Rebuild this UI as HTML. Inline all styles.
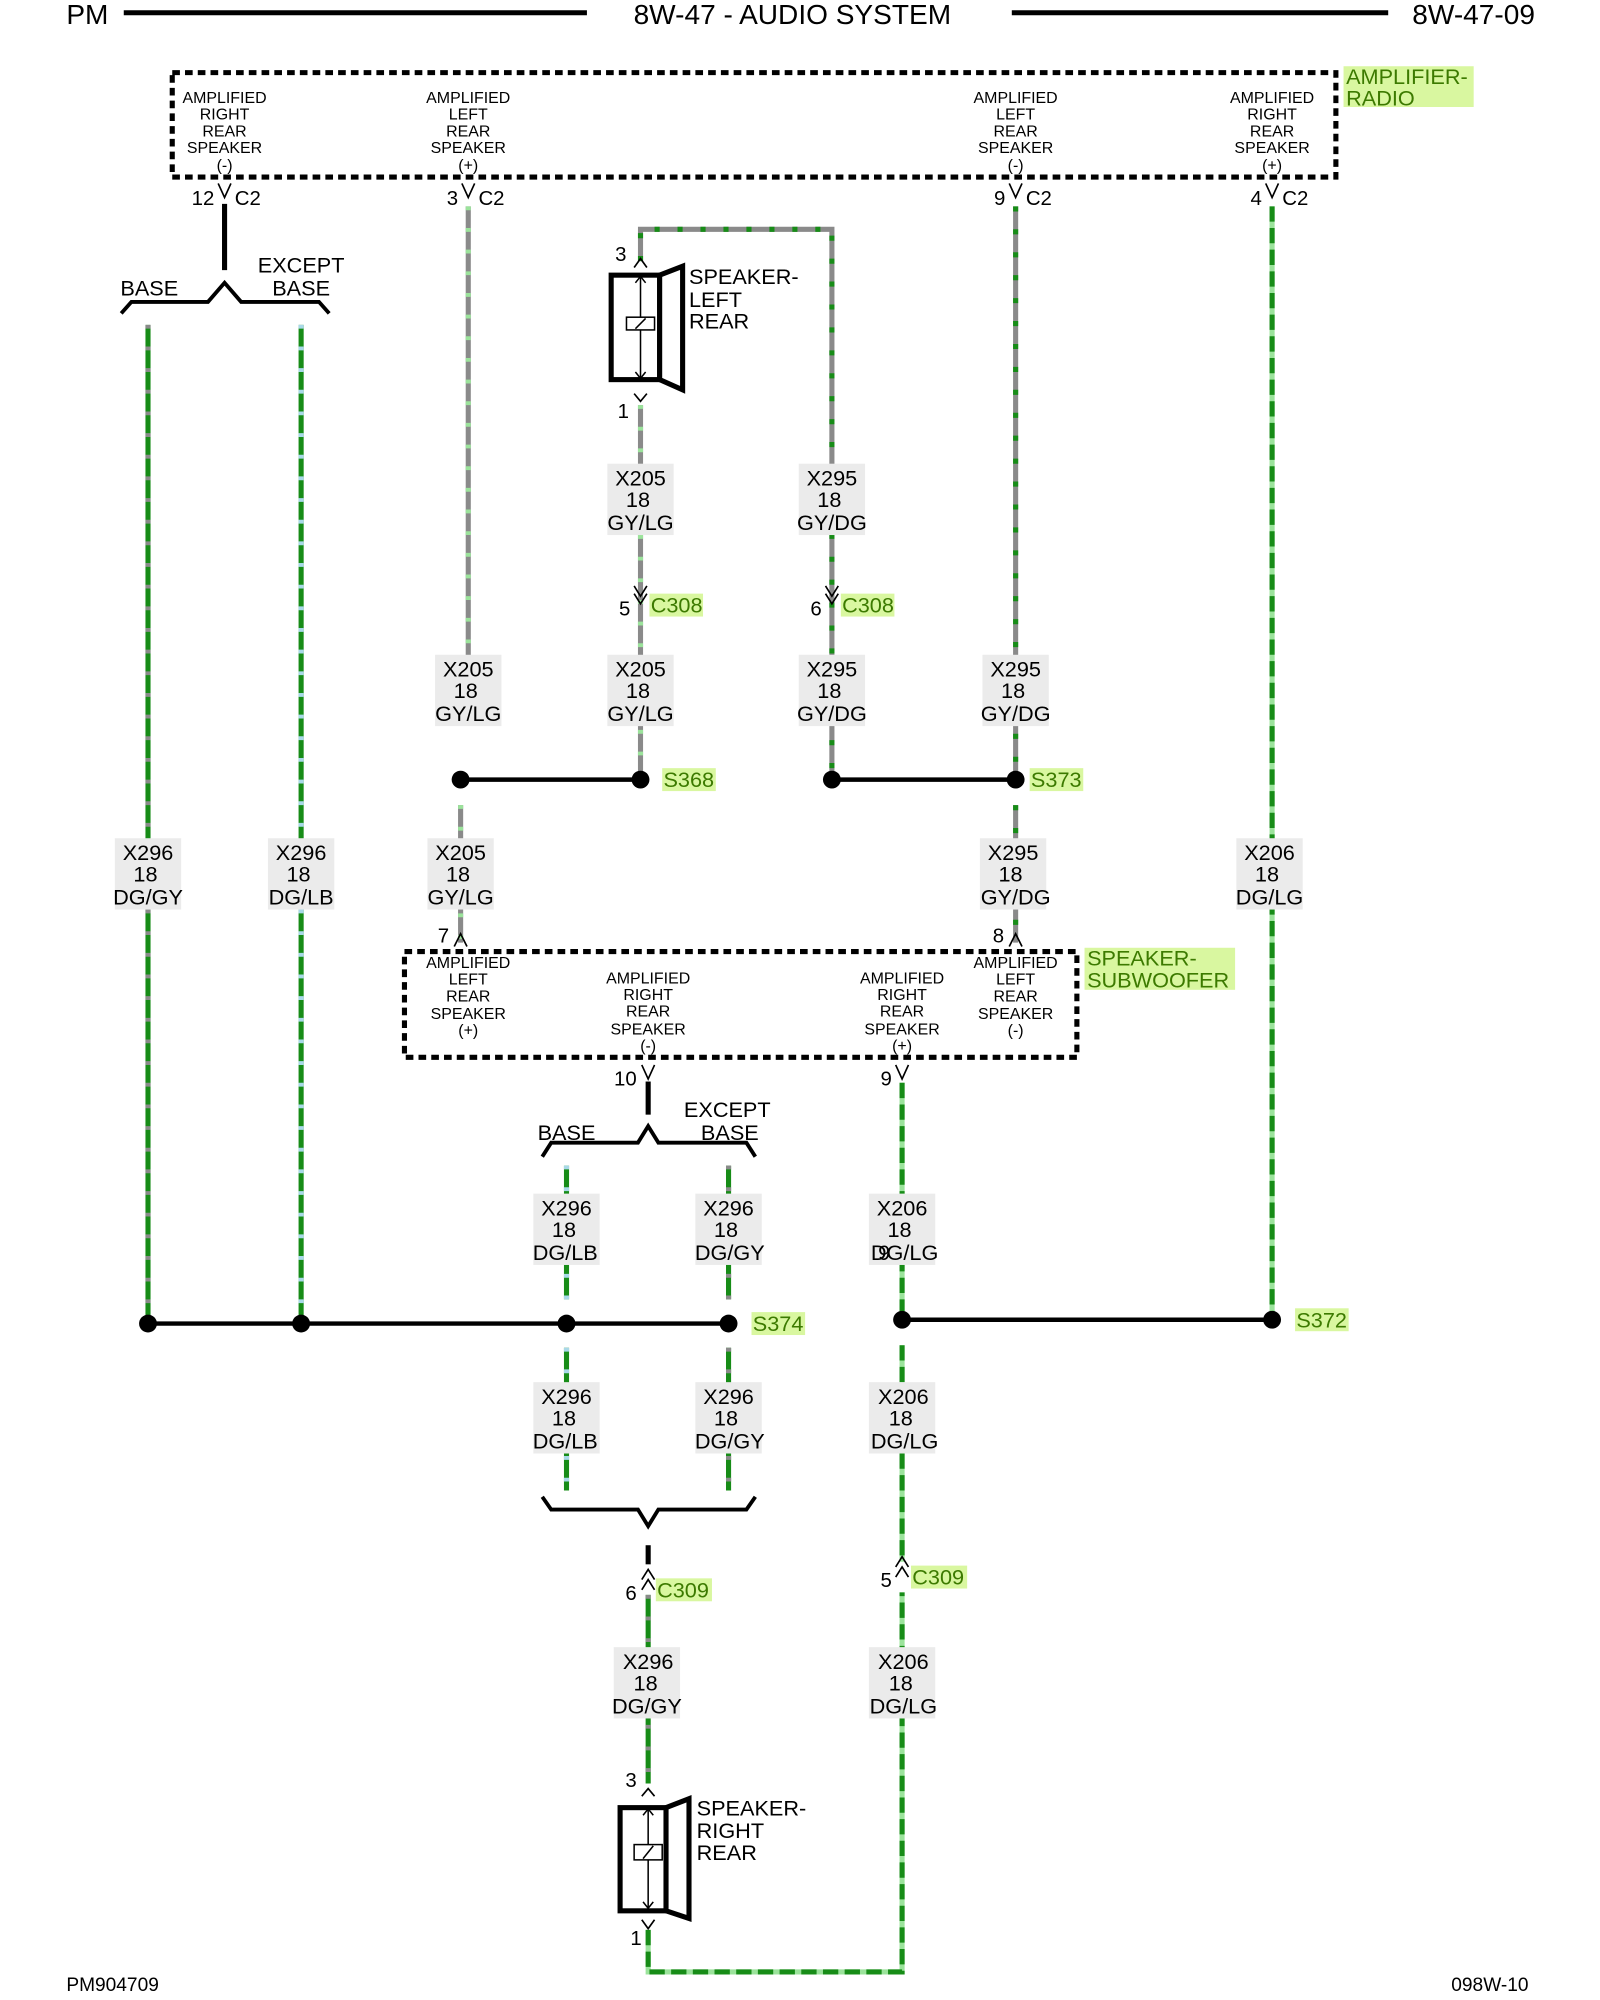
<!DOCTYPE html>
<html><head><meta charset="utf-8"><style>
html,body{margin:0;padding:0;background:#fff}
svg{display:block}
text{font-family:"Liberation Sans",sans-serif;fill:#000}
.s{font-size:12.5px;text-anchor:middle}
.w{font-size:17px;text-anchor:middle}
.p{font-size:16px}
.g{fill:#3c7a00;font-size:17px}
.hb{fill:#d9f7a0}
.lb{fill:#ebebeb}
.base{fill:none;stroke-width:4}
.str{fill:none;stroke-width:4}
</style></head><body>
<svg width="1600" height="2000" viewBox="0 0 1254 1570" preserveAspectRatio="none" xmlns="http://www.w3.org/2000/svg">
<text x="52" y="19" style="font-size:22px">PM</text>
<line x1="97" y1="10" x2="460" y2="10" stroke="#000" stroke-width="4"/>
<text x="621" y="19" style="font-size:22px;text-anchor:middle">8W-47 - AUDIO SYSTEM</text>
<line x1="793" y1="10" x2="1088" y2="10" stroke="#000" stroke-width="4"/>
<text x="1203" y="19" style="font-size:22px;text-anchor:end">8W-47-09</text>

<g>
<path class="base" stroke="#178c17" d="M116 255V1039"/><path class="str" stroke="#8a8a8a" stroke-dasharray="3 14" d="M116 255V1039"/>
<path class="base" stroke="#178c17" d="M236 255V1039"/><path class="str" stroke="#a8d8e8" stroke-dasharray="3 14" d="M236 255V1039"/>
<path class="base" stroke="#8a8a8a" d="M367 162V540"/><path class="str" stroke="#9be39b" stroke-dasharray="3 14" d="M367 162V540"/>
<path class="base" stroke="#8a8a8a" d="M502 205V180H652V612"/><path class="str" stroke="#178c17" stroke-dasharray="4 14" d="M502 205V180H652V612"/>
<path class="base" stroke="#8a8a8a" d="M502 318V612"/><path class="str" stroke="#9be39b" stroke-dasharray="3 14" d="M502 318V612"/>
<path class="base" stroke="#8a8a8a" d="M796 162V612"/><path class="str" stroke="#178c17" stroke-dasharray="4 14" d="M796 162V612"/>
<path class="base" stroke="#8a8a8a" d="M796 632V740"/><path class="str" stroke="#178c17" stroke-dasharray="4 14" d="M796 632V740"/>
<path class="base" stroke="#8a8a8a" d="M361 632V740"/><path class="str" stroke="#9be39b" stroke-dasharray="3 14" d="M361 632V740"/>
<path class="base" stroke="#9be39b" d="M997 162V1036"/><path class="str" stroke="#178c17" stroke-dasharray="12 5" d="M997 162V1036"/>
<path class="base" stroke="#9be39b" d="M707 850V1036"/><path class="str" stroke="#178c17" stroke-dasharray="12 5" d="M707 850V1036"/>
<path class="base" stroke="#9be39b" d="M707 1056V1226"/><path class="str" stroke="#178c17" stroke-dasharray="12 5" d="M707 1056V1226"/>
<path class="base" stroke="#9be39b" d="M508 1515V1548H707V1250"/><path class="str" stroke="#178c17" stroke-dasharray="12 5" d="M508 1515V1548H707V1250"/>
<path class="base" stroke="#178c17" d="M444 915V1020M444 1058V1170"/><path class="str" stroke="#a8d8e8" stroke-dasharray="3 14" d="M444 915V1020M444 1058V1170"/>
<path class="base" stroke="#178c17" d="M571 915V1020M571 1058V1170"/><path class="str" stroke="#8a8a8a" stroke-dasharray="3 14" d="M571 915V1020M571 1058V1170"/>
<path class="base" stroke="#178c17" d="M508 1252V1400"/><path class="str" stroke="#8a8a8a" stroke-dasharray="3 14" d="M508 1252V1400"/>
</g>

<g fill="none" stroke="#000">
<line x1="176" y1="160" x2="176" y2="212" stroke-width="4"/>
<polyline stroke-width="3" points="95,246 103,237 163,237 176,222 189,237 250,237 258,246"/>
<line x1="508" y1="849" x2="508" y2="875" stroke-width="4"/>
<polyline stroke-width="3" points="425,908 432,897 500,897 508,884 516,897 585,897 592,908"/>
<polyline stroke-width="3" points="425,1175 432,1185 500,1185 508,1198 516,1185 585,1185 592,1175"/>
<line x1="508" y1="1213" x2="508" y2="1228" stroke-width="4"/>
<line x1="361" y1="612" x2="502" y2="612" stroke-width="3.5"/>
<line x1="652" y1="612" x2="796" y2="612" stroke-width="3.5"/>
<line x1="116" y1="1039" x2="571" y2="1039" stroke-width="3.5"/>
<line x1="707" y1="1036" x2="997" y2="1036" stroke-width="3.5"/>
</g>
<g fill="#000">
<circle cx="361" cy="612" r="7"/><circle cx="502" cy="612" r="7"/>
<circle cx="652" cy="612" r="7"/><circle cx="796" cy="612" r="7"/>
<circle cx="116" cy="1039" r="7"/><circle cx="236" cy="1039" r="7"/><circle cx="444" cy="1039" r="7"/><circle cx="571" cy="1039" r="7"/>
<circle cx="707" cy="1036" r="7"/><circle cx="997" cy="1036" r="7"/>
</g>

<rect x="135" y="57" width="912" height="82" fill="none" stroke="#000" stroke-width="4" stroke-dasharray="6 4"/>
<rect x="1053" y="52" width="102" height="32" class="hb"/>
<text x="1055" y="66" class="g">AMPLIFIER-</text><text x="1055" y="83" class="g">RADIO</text>
<text x="176" y="81" class="s">AMPLIFIED</text><text x="176" y="94" class="s">RIGHT</text><text x="176" y="107" class="s">REAR</text><text x="176" y="120" class="s">SPEAKER</text><text x="176" y="134" class="s">(-)</text>
<text x="367" y="81" class="s">AMPLIFIED</text><text x="367" y="94" class="s">LEFT</text><text x="367" y="107" class="s">REAR</text><text x="367" y="120" class="s">SPEAKER</text><text x="367" y="134" class="s">(+)</text>
<text x="796" y="81" class="s">AMPLIFIED</text><text x="796" y="94" class="s">LEFT</text><text x="796" y="107" class="s">REAR</text><text x="796" y="120" class="s">SPEAKER</text><text x="796" y="134" class="s">(-)</text>
<text x="997" y="81" class="s">AMPLIFIED</text><text x="997" y="94" class="s">RIGHT</text><text x="997" y="107" class="s">REAR</text><text x="997" y="120" class="s">SPEAKER</text><text x="997" y="134" class="s">(+)</text>
<g fill="none" stroke="#000" stroke-width="1.3">
<polyline points="171,144 176,155 181,144"/><polyline points="362,144 367,155 372,144"/>
<polyline points="791,144 796,155 801,144"/><polyline points="992,144 997,155 1002,144"/>
</g>
<text x="168" y="161" class="p" text-anchor="end">12</text><text x="184" y="161" class="p">C2</text>
<text x="359" y="161" class="p" text-anchor="end">3</text><text x="375" y="161" class="p">C2</text>
<text x="788" y="161" class="p" text-anchor="end">9</text><text x="804" y="161" class="p">C2</text>
<text x="989" y="161" class="p" text-anchor="end">4</text><text x="1005" y="161" class="p">C2</text>

<text x="117" y="232" class="w">BASE</text>
<text x="236" y="214" class="w">EXCEPT</text><text x="236" y="232" class="w">BASE</text>

<g fill="none" stroke="#000">
<rect x="479" y="216" width="38" height="82" stroke-width="4"/>
<polygon points="517,216 535,209 535,306 517,298" stroke-width="4" fill="#fff"/>
<line x1="502" y1="218" x2="502" y2="296" stroke-width="1.2"/>
<polyline points="498,222 502,217 506,222" stroke-width="1.2"/><polyline points="498,292 502,297 506,292" stroke-width="1.2"/>
<rect x="491" y="249" width="22" height="10" fill="#fff" stroke-width="1.2"/><line x1="498" y1="258" x2="506" y2="250" stroke-width="1.2"/>
<polyline points="497,210 502,203 507,210" stroke-width="1.3"/>
<polyline points="497,309 502,315 507,309" stroke-width="1.3"/>
</g>
<text x="491" y="205" class="p" text-anchor="end">3</text>
<text x="493" y="328" class="p" text-anchor="end">1</text>
<text x="540" y="223" class="w" style="text-anchor:start">SPEAKER-</text>
<text x="540" y="241" class="w" style="text-anchor:start">LEFT</text>
<text x="540" y="258" class="w" style="text-anchor:start">REAR</text>

<g fill="none" stroke="#000" stroke-width="1.3">
<polyline points="497,460 502,468 507,460"/><polyline points="497,466 502,474 507,466"/>
<polyline points="647,460 652,468 657,460"/><polyline points="647,466 652,474 657,466"/>
</g>
<text x="494" y="483" class="p" text-anchor="end">5</text><rect x="509" y="466" width="42" height="18" class="hb"/><text x="510" y="481" class="g">C308</text>
<text x="644" y="483" class="p" text-anchor="end">6</text><rect x="659" y="466" width="42" height="18" class="hb"/><text x="660" y="481" class="g">C308</text>

<rect x="519" y="603" width="42" height="18" class="hb"/><text x="520" y="618" class="g">S368</text>
<rect x="807" y="603" width="42" height="18" class="hb"/><text x="808" y="618" class="g">S373</text>
<rect x="589" y="1030" width="42" height="18" class="hb"/><text x="590" y="1045" class="g">S374</text>
<rect x="1015" y="1027" width="42" height="18" class="hb"/><text x="1016" y="1042" class="g">S372</text>

<rect x="476" y="364" width="52" height="56" class="lb"/><text x="502" y="381" class="w">X205</text><text x="500" y="398" class="w">18</text><text x="502" y="416" class="w">GY/LG</text>
<rect x="626" y="364" width="52" height="56" class="lb"/><text x="652" y="381" class="w">X295</text><text x="650" y="398" class="w">18</text><text x="652" y="416" class="w">GY/DG</text>
<rect x="341" y="514" width="52" height="56" class="lb"/><text x="367" y="531" class="w">X205</text><text x="365" y="548" class="w">18</text><text x="367" y="566" class="w">GY/LG</text>
<rect x="476" y="514" width="52" height="56" class="lb"/><text x="502" y="531" class="w">X205</text><text x="500" y="548" class="w">18</text><text x="502" y="566" class="w">GY/LG</text>
<rect x="626" y="514" width="52" height="56" class="lb"/><text x="652" y="531" class="w">X295</text><text x="650" y="548" class="w">18</text><text x="652" y="566" class="w">GY/DG</text>
<rect x="770" y="514" width="52" height="56" class="lb"/><text x="796" y="531" class="w">X295</text><text x="794" y="548" class="w">18</text><text x="796" y="566" class="w">GY/DG</text>
<rect x="90" y="658" width="52" height="56" class="lb"/><text x="116" y="675" class="w">X296</text><text x="114" y="692" class="w">18</text><text x="116" y="710" class="w">DG/GY</text>
<rect x="210" y="658" width="52" height="56" class="lb"/><text x="236" y="675" class="w">X296</text><text x="234" y="692" class="w">18</text><text x="236" y="710" class="w">DG/LB</text>
<rect x="335" y="658" width="52" height="56" class="lb"/><text x="361" y="675" class="w">X205</text><text x="359" y="692" class="w">18</text><text x="361" y="710" class="w">GY/LG</text>
<rect x="768" y="658" width="52" height="56" class="lb"/><text x="794" y="675" class="w">X295</text><text x="792" y="692" class="w">18</text><text x="796" y="710" class="w">GY/DG</text>
<rect x="969" y="658" width="52" height="56" class="lb"/><text x="995" y="675" class="w">X206</text><text x="993" y="692" class="w">18</text><text x="995" y="710" class="w">DG/LG</text>
<rect x="418" y="937" width="52" height="56" class="lb"/><text x="444" y="954" class="w">X296</text><text x="442" y="971" class="w">18</text><text x="443" y="989" class="w">DG/LB</text>
<rect x="545" y="937" width="52" height="56" class="lb"/><text x="571" y="954" class="w">X296</text><text x="569" y="971" class="w">18</text><text x="572" y="989" class="w">DG/GY</text>
<rect x="681" y="937" width="52" height="56" class="lb"/><text x="707" y="954" class="w">X206</text><text x="705" y="971" class="w">18</text><text x="709" y="989" class="w">DG/LG</text><text x="693" y="989" class="w">9</text>
<rect x="418" y="1085" width="52" height="56" class="lb"/><text x="444" y="1102" class="w">X296</text><text x="442" y="1119" class="w">18</text><text x="443" y="1137" class="w">DG/LB</text>
<rect x="545" y="1085" width="52" height="56" class="lb"/><text x="571" y="1102" class="w">X296</text><text x="569" y="1119" class="w">18</text><text x="572" y="1137" class="w">DG/GY</text>
<rect x="681" y="1085" width="52" height="56" class="lb"/><text x="708" y="1102" class="w">X206</text><text x="706" y="1119" class="w">18</text><text x="709" y="1137" class="w">DG/LG</text>
<rect x="481" y="1293" width="52" height="56" class="lb"/><text x="508" y="1310" class="w">X296</text><text x="506" y="1327" class="w">18</text><text x="507" y="1345" class="w">DG/GY</text>
<rect x="681" y="1293" width="52" height="56" class="lb"/><text x="708" y="1310" class="w">X206</text><text x="706" y="1327" class="w">18</text><text x="708" y="1345" class="w">DG/LG</text>

<g fill="none" stroke="#000" stroke-width="1.3">
<polyline points="356,743 361,733 366,743"/><polyline points="791,743 796,733 801,743"/>
</g>
<text x="352" y="740" class="p" text-anchor="end">7</text>
<text x="787" y="740" class="p" text-anchor="end">8</text>
<rect x="317" y="747" width="527" height="83" fill="none" stroke="#000" stroke-width="4" stroke-dasharray="6 4"/>
<rect x="850" y="744" width="118" height="33" class="hb"/>
<text x="852" y="758" class="g">SPEAKER-</text><text x="852" y="775" class="g">SUBWOOFER</text>
<text x="367" y="760" class="s">AMPLIFIED</text><text x="367" y="773" class="s">LEFT</text><text x="367" y="786" class="s">REAR</text><text x="367" y="800" class="s">SPEAKER</text><text x="367" y="813" class="s">(+)</text>
<text x="508" y="772" class="s">AMPLIFIED</text><text x="508" y="785" class="s">RIGHT</text><text x="508" y="798" class="s">REAR</text><text x="508" y="812" class="s">SPEAKER</text><text x="508" y="825" class="s">(-)</text>
<text x="707" y="772" class="s">AMPLIFIED</text><text x="707" y="785" class="s">RIGHT</text><text x="707" y="798" class="s">REAR</text><text x="707" y="812" class="s">SPEAKER</text><text x="707" y="825" class="s">(+)</text>
<text x="796" y="760" class="s">AMPLIFIED</text><text x="796" y="773" class="s">LEFT</text><text x="796" y="786" class="s">REAR</text><text x="796" y="800" class="s">SPEAKER</text><text x="796" y="813" class="s">(-)</text>
<g fill="none" stroke="#000" stroke-width="1.3">
<polyline points="503,836 508,847 513,836"/><polyline points="702,836 707,847 712,836"/>
</g>
<text x="499" y="852" class="p" text-anchor="end">10</text>
<text x="699" y="852" class="p" text-anchor="end">9</text>
<text x="444" y="895" class="w">BASE</text>
<text x="570" y="877" class="w">EXCEPT</text><text x="572" y="895" class="w">BASE</text>

<g fill="none" stroke="#000" stroke-width="1.3">
<polyline points="503,1240 508,1232 513,1240"/><polyline points="503,1248 508,1240 513,1248"/>
<polyline points="702,1230 707,1222 712,1230"/><polyline points="702,1238 707,1230 712,1238"/>
</g>
<text x="499" y="1256" class="p" text-anchor="end">6</text><rect x="514" y="1239" width="44" height="18" class="hb"/><text x="515" y="1254" class="g">C309</text>
<text x="699" y="1246" class="p" text-anchor="end">5</text><rect x="714" y="1229" width="44" height="18" class="hb"/><text x="715" y="1244" class="g">C309</text>

<g fill="none" stroke="#000">
<rect x="486" y="1419" width="36" height="81" stroke-width="4"/>
<polygon points="522,1419 540,1412 540,1506 522,1500" stroke-width="4" fill="#fff"/>
<line x1="508" y1="1421" x2="508" y2="1498" stroke-width="1.2"/>
<polyline points="504,1425 508,1420 512,1425" stroke-width="1.2"/><polyline points="504,1493 508,1498 512,1493" stroke-width="1.2"/>
<rect x="497" y="1448" width="22" height="12" fill="#fff" stroke-width="1.2"/><line x1="504" y1="1459" x2="512" y2="1449" stroke-width="1.2"/>
<polyline points="503,1410 508,1404 513,1410" stroke-width="1.3"/>
<polyline points="503,1507 508,1514 513,1507" stroke-width="1.3"/>
</g>
<text x="499" y="1403" class="p" text-anchor="end">3</text>
<text x="503" y="1527" class="p" text-anchor="end">1</text>
<text x="546" y="1425" class="w" style="text-anchor:start">SPEAKER-</text>
<text x="546" y="1443" class="w" style="text-anchor:start">RIGHT</text>
<text x="546" y="1460" class="w" style="text-anchor:start">REAR</text>

<text x="52" y="1563" style="font-size:15px">PM904709</text>
<text x="1198" y="1563" style="font-size:15px;text-anchor:end">098W-10</text>
</svg>
</body></html>
